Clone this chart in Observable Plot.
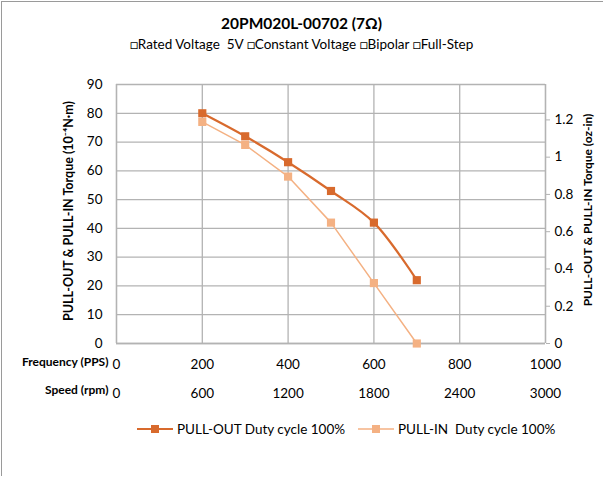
<!DOCTYPE html>
<html>
<head>
<meta charset="utf-8">
<script src="https://cdn.jsdelivr.net/npm/d3@7"></script>
<script src="https://cdn.jsdelivr.net/npm/@observablehq/plot@0.6"></script>
<style>
  html, body { margin: 0; padding: 0; background: #fff; }
  body { font-family: Lato, "Liberation Sans", sans-serif; color: #000; }
  #card { position: relative; width: 640px; height: 476px; border: 1px solid #9a9a9a; box-sizing: border-box; left: 1px; top: 1px; overflow: hidden; }
  #title { position: absolute; top: 12px; left: -2px; width: 603px; text-align: center; font-weight: bold; font-size: 15.5px; }
  #subtitle { position: absolute; top: 34px; left: -2px; width: 603px; text-align: center; font-size: 13.5px; }
  #chart { position: absolute; top: 61px; left: -3px; }
  #legend { position: absolute; top: 418px; left: -2px; width: 603px; font-size: 13.5px; }
  .item { position: absolute; display: flex; align-items: center; white-space: pre; }
  .item svg { margin-right: 4px; }
</style>
</head>
<body>
<div id="card">
  <div id="title">20PM020L-00702 (7Ω)</div>
  <div id="subtitle">□Rated Voltage&nbsp; 5V □Constant Voltage □Bipolar □Full-Step</div>
  <div id="chart"></div>
  <div id="legend"></div>
</div>
<script>
// Pulse rate (PPS) at each measured point
const frequency = [200, 300, 400, 500, 600, 700];
// Torque in 10^-4 N·m
const pullOut = [80, 72, 63, 53, 42, 22];
const pullIn = [77, 69, 58, 42, 21, 0];

// Axis ticks
const freqTicks = [0, 200, 400, 600, 800, 1000];
const torqueTicks = [0, 10, 20, 30, 40, 50, 60, 70, 80, 90];
const ozTicks = [0, 0.2, 0.4, 0.6, 0.8, 1, 1.2];
const rpmPerPps = 3;        // speed row: rpm = 3 × PPS
const ozMax = 1.39;         // oz-in value at the top (90) of the left scale

const series = [
  {name: "PULL-OUT Duty cycle 100%", values: pullOut, color: "#D86A2D", width: 2.2, curve: "catmull-rom"},
  {name: "PULL-IN  Duty cycle 100%", values: pullIn, color: "#F4B183", width: 1.5, curve: "linear"}
];

const rows = series.flatMap(s => frequency.map((f, i) => ({series: s.name, f, t: s.values[i]})));
const toLeft = oz => oz * 90 / ozMax;
const grid = "#b3b3b3";

const plot = Plot.plot({
  width: 604,
  height: 346,
  marginLeft: 117,
  marginRight: 58,
  marginTop: 21,
  marginBottom: 66,
  style: {fontFamily: "Lato, 'Liberation Sans', sans-serif", fontSize: "13px", color: "#000", background: "transparent", overflow: "visible"},
  x: {domain: [0, 1000]},
  y: {domain: [0, 90]},
  marks: [
    Plot.gridY(torqueTicks, {stroke: grid, strokeOpacity: 1, strokeWidth: 1.3}),
    Plot.gridX(freqTicks, {stroke: grid, strokeOpacity: 1, strokeWidth: 1.3}),
    Plot.ruleX([0], {stroke: grid, strokeWidth: 1.3}),
    Plot.ruleX([1000], {stroke: grid, strokeWidth: 1.3}),
    Plot.ruleY([0], {stroke: grid, strokeWidth: 1.3}),
    Plot.axisY(torqueTicks, {anchor: "left", tickSize: 0, tickPadding: 14, label: null, fontSize: 13.5}),
    Plot.axisY(ozTicks.map(toLeft), {anchor: "right", tickSize: 4, stroke: grid, tickPadding: 5, label: null, fontSize: 13.5,
      tickFormat: d => String(Math.round(d * ozMax / 90 * 10) / 10)}),
    Plot.axisX(freqTicks, {anchor: "bottom", tickSize: 0, tickPadding: 16, label: null, fontSize: 13.5, tickFormat: d => String(d)}),
    Plot.axisX(freqTicks, {anchor: "bottom", tickSize: 0, tickPadding: 45, label: null, fontSize: 13.5, tickFormat: d => String(d * rpmPerPps)}),
    Plot.text(["Frequency (PPS)"], {frameAnchor: "bottom-left", dx: -8, dy: 22, textAnchor: "end", fontWeight: "bold", fontSize: 12}),
    Plot.text(["Speed (rpm)"], {frameAnchor: "bottom-left", dx: -8, dy: 50, textAnchor: "end", fontWeight: "bold", fontSize: 12}),
    Plot.text(["PULL-OUT & PULL-IN Torque (10⁻⁴N·m)"], {frameAnchor: "left", dx: -48, dy: -3, rotate: -90, textAnchor: "middle", fontWeight: "bold", fontSize: 12.5}),
    Plot.text(["PULL-OUT & PULL-IN Torque (oz-in)"], {frameAnchor: "right", dx: 43, dy: -4, rotate: -90, textAnchor: "middle", fontWeight: "bold", fontSize: 12}),
    ...series.map(s => Plot.line(rows.filter(r => r.series === s.name), {x: "f", y: "t", stroke: s.color, strokeWidth: s.width, curve: s.curve})),
    ...series.map(s => Plot.dot(rows.filter(r => r.series === s.name), {x: "f", y: "t", symbol: "square", r: 4.6, fill: s.color, stroke: "none"}))
  ]
});
document.getElementById("chart").append(plot);

// Legend: line-with-marker swatches
const legend = d3.select("#legend");
const lefts = [137, 358];
series.forEach((s, i) => {
  const item = legend.append("div").attr("class", "item").style("left", lefts[i] + "px").style("top", "0px");
  const sw = item.append("svg").attr("width", 36).attr("height", 18);
  sw.append("line").attr("x1", 0).attr("x2", 36).attr("y1", 9).attr("y2", 9).attr("stroke", s.color).attr("stroke-width", s.width);
  sw.append("rect").attr("x", 14).attr("y", 5).attr("width", 8).attr("height", 8).attr("fill", s.color);
  item.append("span").text(s.name);
});
</script>
</body>
</html>
